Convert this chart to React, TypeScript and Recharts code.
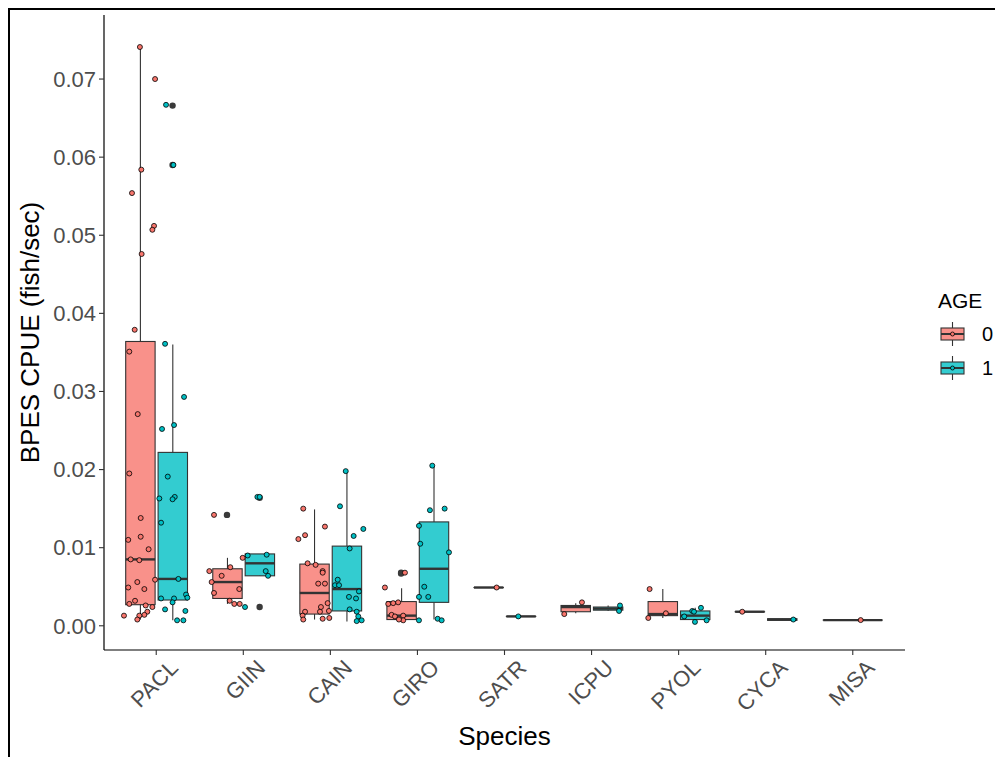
import React from "react";
import { ComposedChart, Bar, Scatter, XAxis, YAxis } from "recharts";

const FONT = "'Liberation Sans', Arial, sans-serif";

const SPECIES = ["PACL", "GIIN", "CAIN", "GIRO", "SATR", "ICPU", "PYOL", "CYCA", "MISA"];
const Y_TICKS = [0, 0.01, 0.02, 0.03, 0.04, 0.05, 0.06, 0.07];

// box stats per species: [lower whisker, Q1, median, Q3, upper whisker]
const BOX_AGE0: (number[] | null)[] = [
  [0.0008, 0.0027, 0.0085, 0.0364, 0.0741],
  [0.0028, 0.0035, 0.0056, 0.0073, 0.0087],
  [0.0008, 0.0015, 0.0042, 0.0079, 0.0149],
  [0.0007, 0.0008, 0.0013, 0.0031, 0.0048],
  [0.0049, 0.0049, 0.0049, 0.0049, 0.0049],
  [0.0016, 0.0018, 0.0024, 0.0026, 0.0029],
  [0.001, 0.0013, 0.0015, 0.0031, 0.0047],
  [0.0018, 0.0018, 0.0018, 0.0018, 0.0018],
  [0.00073, 0.00073, 0.00073, 0.00073, 0.00073],
];
const BOX_AGE1: (number[] | null)[] = [
  [0.0007, 0.0033, 0.006, 0.0222, 0.036],
  [0.0064, 0.0064, 0.008, 0.0092, 0.0092],
  [0.00055, 0.0019, 0.0047, 0.0102, 0.0198],
  [0.0008, 0.003, 0.0073, 0.0133, 0.0205],
  [0.0012, 0.0012, 0.0012, 0.0012, 0.0012],
  [0.0019, 0.002, 0.0022, 0.0024, 0.0026],
  [0.0005, 0.0008, 0.0013, 0.0019, 0.0023],
  [0.0007, 0.0007, 0.0008, 0.0009, 0.0009],
  null,
];

// outliers (boxplot) per species
const OUT_AGE0: number[][] = [[], [0.0142], [], [0.0068, 0.0067], [], [], [], [], []];
const OUT_AGE1: number[][] = [[0.0666, 0.059], [0.0164, 0.0024], [], [], [], [], [], [], []];

// jittered observations: [CPUE, jitter (category units)]
const PTS_AGE0: [number, number][][] = [
  [[0.0741, 0], [0.07, 0.174], [0.0584, 0.016], [0.0554, -0.091], [0.0512, 0.162], [0.0507, 0.143],
   [0.0476, 0.02], [0.0379, -0.06], [0.0351, -0.122], [0.0271, -0.025], [0.0195, -0.122], [0.0138, 0.009],
   [0.0114, 0.009], [0.011, -0.134], [0.0098, 0.1], [0.0085, -0.106], [0.0084, -0.007], [0.0059, 0.174],
   [0.0056, -0.03], [0.0049, -0.134], [0.0047, 0.051], [0.0032, -0.056], [0.0028, -0.122], [0.0026, 0.066],
   [0.0024, 0.143], [0.0018, 0.085], [0.0014, 0.051], [0.0013, -0.007], [0.0013, -0.183], [0.0008, -0.03]],
  [[0.0142, -0.149], [0.0087, 0.18], [0.0075, 0.038], [0.007, -0.203], [0.0064, -0.061], [0.0056, -0.176],
   [0.0047, 0.141], [0.0042, -0.149], [0.0032, 0.031], [0.0028, 0.084], [0.0028, 0.146]],
  [[0.015, -0.124], [0.0127, 0.125], [0.0116, -0.103], [0.0111, -0.18], [0.008, -0.074], [0.0078, 0.018],
   [0.007, 0.099], [0.0068, 0.099], [0.0054, 0.048], [0.0054, 0.125], [0.0029, 0.156], [0.0024, 0.079],
   [0.0018, 0.068], [0.0018, -0.103], [0.0019, 0.171], [0.0013, -0.131], [0.0008, -0.124], [0.0009, 0.099],
   [0.001, 0.175]],
  [[0.0049, -0.186], [0.0068, 0.044], [0.0028, -0.148], [0.0029, -0.091], [0.003, -0.034], [0.0014, -0.109],
   [0.0012, -0.071], [0.0013, 0.024], [0.0007, 0.024], [0.0008, -0.025]],
  [[0.0049, 0.097]],
  [[0.003, 0.077], [0.0015, -0.126]],
  [[0.0047, -0.146], [0.0016, 0.041], [0.001, -0.161]],
  [[0.0018, -0.082]],
  [[0.00073, 0.091]],
];
const PTS_AGE1: [number, number][][] = [
  [[0.0667, -0.075], [0.059, 0.01], [0.0361, -0.086], [0.0293, 0.132], [0.0257, 0.017], [0.0252, -0.121],
   [0.0191, -0.055], [0.0165, 0.025], [0.0162, 0], [0.0163, -0.152], [0.0132, -0.132], [0.006, 0.067],
   [0.004, 0.155], [0.0036, 0.17], [0.0035, -0.132], [0.0035, 0.017], [0.003, 0], [0.0021, -0.086],
   [0.0019, 0.147], [0.0007, 0.052], [0.0007, 0.124]],
  [[0.0165, -0.026], [0.0165, 0], [0.0091, 0.081], [0.009, -0.137], [0.007, 0.07], [0.0064, 0.097], [0.0024, -0.168]],
  [[0.0198, -0.011], [0.0153, -0.077], [0.0124, 0.191], [0.0115, 0.08], [0.0099, 0.034], [0.0059, -0.103],
   [0.0052, -0.134], [0.0052, -0.088], [0.0044, 0.141], [0.0037, 0.026], [0.0035, 0.107], [0.0021, 0.034],
   [0.0018, 0.115], [0.0012, 0.133], [0.0006, 0.115], [0.0007, 0.172]],
  [[0.0205, -0.017], [0.0148, -0.044], [0.015, 0.125], [0.0128, -0.17], [0.0105, -0.155], [0.0094, 0.175],
   [0.005, -0.109], [0.0037, -0.063], [0.0037, -0.17], [0.0009, 0.045], [0.0007, 0.091], [0.0007, -0.17]],
  [[0.0012, -0.029]],
  [[0.0026, 0.139], [0.0019, 0.128]],
  [[0.0023, 0.069], [0.0019, -0.031], [0.0018, -0.011], [0.0012, -0.123], [0.0005, 0], [0.0007, 0.134]],
  [[0.0008, 0.13]],
  [],
];

const RED = "#F8766D";
const TEAL = "#00BFC4";
const RED_BOX = "#F9918A"; // alpha 0.8 on white
const TEAL_BOX = "#33CCD0";
const LINE = "#333333";

const isPair = (i: number) => BOX_AGE0[i] != null && BOX_AGE1[i] != null;

const rows = SPECIES.map((sp, i) => {
  const a = BOX_AGE0[i];
  const b = BOX_AGE1[i];
  const pair = isPair(i);
  const s = pair ? null : a ?? b;
  return {
    sp,
    box0: pair && a ? [a[1], a[3]] : null,
    whisk0: pair && a ? [a[0], a[4]] : null,
    med0: pair && a ? [a[2], a[2]] : null,
    box1: pair && b ? [b[1], b[3]] : null,
    whisk1: pair && b ? [b[0], b[4]] : null,
    med1: pair && b ? [b[2], b[2]] : null,
    boxS: s ? [s[1], s[3]] : null,
    whiskS: s ? [s[0], s[4]] : null,
    medS: s ? [s[2], s[2]] : null,
    soloAge: a ? 0 : 1,
  };
});

const DODGE = 0.1875;
const xPos = (i: number, age: number) => i + 1 + (isPair(i) ? (age === 0 ? -DODGE : DODGE) : 0);

const pts0 = PTS_AGE0.flatMap((g, i) => g.map(([v, j]) => ({ x: xPos(i, 0) + j, y: v })));
const pts1 = PTS_AGE1.flatMap((g, i) => g.map(([v, j]) => ({ x: xPos(i, 1) + j, y: v })));
const outs = [
  ...OUT_AGE0.flatMap((g, i) => g.map((v) => ({ x: xPos(i, 0), y: v }))),
  ...OUT_AGE1.flatMap((g, i) => g.map((v) => ({ x: xPos(i, 1), y: v }))),
];

const boxShape = (key: string, fill?: string) => (p: any) => {
  if (!p.payload || p.payload[key] == null) return <g />;
  const f = fill ?? (p.payload.soloAge === 0 ? RED_BOX : TEAL_BOX);
  return <rect x={p.x} y={p.y} width={p.width} height={Math.max(p.height, 0.01)} fill={f} stroke={LINE} strokeWidth={1.1} />;
};
const whiskShape = (key: string) => (p: any) => {
  if (!p.payload || p.payload[key] == null) return <g />;
  const cx = p.x + p.width / 2;
  return <line x1={cx} x2={cx} y1={p.y} y2={p.y + p.height} stroke={LINE} strokeWidth={1.1} />;
};
const medShape = (key: string) => (p: any) => {
  if (!p.payload || p.payload[key] == null) return <g />;
  return <line x1={p.x} x2={p.x + p.width} y1={p.y} y2={p.y} stroke={LINE} strokeWidth={2.4} />;
};
const dot = (fill: string) => (p: any) => (
  <circle cx={p.cx} cy={p.cy} r={2.5} fill={fill} stroke="#000" strokeWidth={0.8} />
);
const outDot = (p: any) => <circle cx={p.cx} cy={p.cy} r={3.2} fill="#3a3a3a" />;

const XTick = (p: any) => (
  <g transform={`translate(${p.x + 12},${p.y})`}>
    <text textAnchor="end" transform="rotate(-45)" dy="0.72em" fontSize={22} fill="#4D4D4D" fontFamily={FONT}>
      {p.payload.value}
    </text>
  </g>
);

const PAD = { left: 8.7, right: 8.7 };
const CAT_AXES = ["box", "whisk", "med", "soloBox", "soloWhisk", "soloMed"];

function LegendBox() {
  const keys = [
    { label: "0", fill: RED_BOX, dot: RED, cy: 54 },
    { label: "1", fill: TEAL_BOX, dot: TEAL, cy: 88 },
  ];
  return (
    <svg width={90} height={120} style={{ position: "absolute", left: 912, top: 272 }}>
      <text x={18} y={28} fontSize={21} fontFamily={FONT} fill="#000">AGE</text>
      {keys.map((k) => (
        <g key={k.label}>
          <line x1={32.5} x2={32.5} y1={k.cy - 12} y2={k.cy + 12} stroke={LINE} strokeWidth={1.1} />
          <rect x={21} y={k.cy - 6} width={23} height={12} fill={k.fill} stroke={LINE} strokeWidth={1.1} />
          <line x1={21} x2={44} y1={k.cy} y2={k.cy} stroke={LINE} strokeWidth={2} />
          <circle cx={32.5} cy={k.cy} r={2} fill={k.dot} stroke="#000" strokeWidth={0.8} />
          <text x={62} y={k.cy + 7} fontSize={20} fontFamily={FONT} fill="#000">{k.label}</text>
        </g>
      ))}
    </svg>
  );
}

export default function App() {
  return (
    <div style={{ position: "relative", width: 995, height: 749, fontFamily: FONT }}>
      <ComposedChart
        width={995}
        height={749}
        data={rows}
        margin={{ top: 7, right: 98, bottom: 0, left: 0 }}
        barGap={3}
      >
        {CAT_AXES.map((id) => (
          <XAxis
            key={id}
            xAxisId={id}
            dataKey="sp"
            type="category"
            padding={PAD}
            hide={id !== "box"}
            height={107}
            axisLine={{ stroke: "#000", strokeWidth: 1.2 }}
            tickLine={{ stroke: LINE, strokeWidth: 1.1 }}
            tickSize={5}
            tickMargin={3}
            interval={0}
            tick={<XTick />}
            label={{ value: "Species", position: "insideBottom", offset: 12, style: { fontSize: 26, fill: "#000", fontFamily: FONT } }}
          />
        ))}
        <XAxis xAxisId="num" dataKey="x" type="number" domain={[0.4, 9.6]} allowDataOverflow hide />
        <YAxis
          type="number"
          domain={[-0.0031, 0.0782]}
          allowDataOverflow
          ticks={Y_TICKS}
          width={96}
          tickFormatter={(v: number) => v.toFixed(2)}
          axisLine={{ stroke: "#000", strokeWidth: 1.2 }}
          tickLine={{ stroke: LINE, strokeWidth: 1.1 }}
          tickSize={5}
          tickMargin={3}
          tick={{ fontSize: 22, fill: "#4D4D4D", fontFamily: FONT }}
          label={{
            value: "BPES CPUE (fish/sec)",
            angle: -90,
            position: "insideLeft",
            offset: 22,
            style: { fontSize: 26, fill: "#000", fontFamily: FONT, textAnchor: "middle" },
          }}
        />

        <Bar xAxisId="whisk" dataKey={(d: any) => d.whisk0} barSize={29.4} shape={whiskShape("whisk0")} isAnimationActive={false} />
        <Bar xAxisId="whisk" dataKey={(d: any) => d.whisk1} barSize={29.4} shape={whiskShape("whisk1")} isAnimationActive={false} />
        <Bar xAxisId="soloWhisk" dataKey={(d: any) => d.whiskS} barSize={59} shape={whiskShape("whiskS")} isAnimationActive={false} />

        <Bar xAxisId="box" dataKey={(d: any) => d.box0} barSize={29.4} shape={boxShape("box0", RED_BOX)} isAnimationActive={false} />
        <Bar xAxisId="box" dataKey={(d: any) => d.box1} barSize={29.4} shape={boxShape("box1", TEAL_BOX)} isAnimationActive={false} />
        <Bar xAxisId="soloBox" dataKey={(d: any) => d.boxS} barSize={59} shape={boxShape("boxS")} isAnimationActive={false} />

        <Bar xAxisId="med" dataKey={(d: any) => d.med0} barSize={29.4} shape={medShape("med0")} isAnimationActive={false} />
        <Bar xAxisId="med" dataKey={(d: any) => d.med1} barSize={29.4} shape={medShape("med1")} isAnimationActive={false} />
        <Bar xAxisId="soloMed" dataKey={(d: any) => d.medS} barSize={59} shape={medShape("medS")} isAnimationActive={false} />

        <Scatter xAxisId="num" data={outs} dataKey="y" shape={outDot} isAnimationActive={false} />
        <Scatter xAxisId="num" data={pts0} dataKey="y" shape={dot(RED)} isAnimationActive={false} />
        <Scatter xAxisId="num" data={pts1} dataKey="y" shape={dot(TEAL)} isAnimationActive={false} />
      </ComposedChart>
      <div style={{ position: "absolute", left: 0, top: 0, width: 995, height: 2, background: "#000" }} />
      <div style={{ position: "absolute", left: 0, top: 0, width: 2, height: 749, background: "#000" }} />
      <LegendBox />
    </div>
  );
}
